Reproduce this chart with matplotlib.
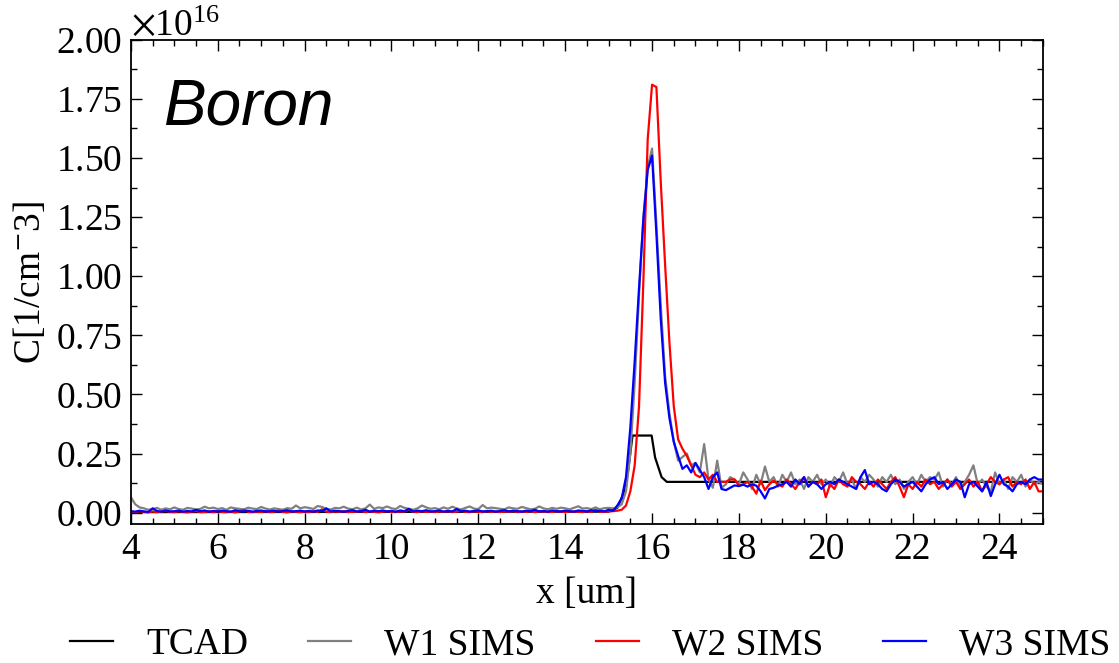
import numpy as np
import matplotlib
matplotlib.use("Agg")
import matplotlib.pyplot as plt
from matplotlib.ticker import AutoMinorLocator, MultipleLocator, ScalarFormatter

plt.rcParams["font.family"] = ["Liberation Serif", "DejaVu Serif"]
plt.rcParams["mathtext.fontset"] = "stix"

SCALE = 1e16  # concentrations below are given in units of 1e16 cm^-3

# TCAD simulation profile
x_tcad = [4.0, 15.0, 15.2, 15.34, 15.45, 15.55, 15.99, 16.07, 16.22, 16.34, 25.0]
c_tcad = [0.002, 0.004, 0.02, 0.08, 0.18, 0.326, 0.326, 0.233, 0.15, 0.13, 0.13]

# SIMS depth grid (um), 0.1 um steps from 4 to 25
x_sims = np.round(np.arange(4.0, 25.05, 0.1), 1)

c_w1 = [
    0.065, 0.035, 0.022, 0.018, 0.012, 0.015, 0.020, 0.012, 0.018, 0.014,
    0.022, 0.015, 0.012, 0.020, 0.017, 0.013, 0.016, 0.025, 0.018, 0.021,
    0.015, 0.019, 0.012, 0.022, 0.018, 0.016, 0.013, 0.021, 0.017, 0.015,
    0.024, 0.017, 0.013, 0.018, 0.015, 0.012, 0.019, 0.016, 0.030, 0.018,
    0.023, 0.020, 0.015, 0.028, 0.024, 0.016, 0.013, 0.020, 0.018, 0.025,
    0.017, 0.014, 0.021, 0.013, 0.018, 0.034, 0.016, 0.022, 0.019, 0.026,
    0.018, 0.015, 0.028, 0.020, 0.016, 0.012, 0.018, 0.030, 0.022, 0.016,
    0.019, 0.014, 0.022, 0.016, 0.025, 0.018, 0.013, 0.020, 0.026, 0.017,
    0.015, 0.032, 0.018, 0.021, 0.019, 0.016, 0.014, 0.022, 0.018, 0.016,
    0.024, 0.019, 0.014, 0.016, 0.026, 0.018, 0.014, 0.020, 0.016, 0.021,
    0.018, 0.014, 0.020, 0.027, 0.017, 0.019, 0.015, 0.022, 0.014, 0.019,
    0.020, 0.018, 0.022, 0.035, 0.090, 0.250, 0.550, 0.920, 1.250, 1.460,
    1.540, 1.220, 0.880, 0.580, 0.420, 0.300, 0.220, 0.235, 0.250, 0.200,
    0.210, 0.170, 0.290, 0.140, 0.105, 0.220, 0.105, 0.120, 0.150, 0.140,
    0.120, 0.170, 0.140, 0.100, 0.160, 0.120, 0.195, 0.130, 0.150, 0.110,
    0.160, 0.130, 0.170, 0.120, 0.140, 0.100, 0.150, 0.130, 0.160, 0.120,
    0.140, 0.110, 0.150, 0.130, 0.170, 0.120, 0.140, 0.100, 0.150, 0.130,
    0.160, 0.140, 0.110, 0.150, 0.130, 0.160, 0.120, 0.140, 0.100, 0.130,
    0.150, 0.120, 0.160, 0.130, 0.150, 0.140, 0.170, 0.110, 0.140, 0.120,
    0.150, 0.100, 0.130, 0.160, 0.200, 0.120, 0.140, 0.110, 0.090, 0.170,
    0.120, 0.140, 0.100, 0.150, 0.130, 0.160, 0.110, 0.140, 0.120, 0.130,
    0.120,
]

c_w2 = [
    0.004, 0.002, 0.006, 0.003, 0.001, 0.005, 0.002, 0.004, 0.008, 0.003,
    0.002, 0.006, 0.003, 0.001, 0.004, 0.007, 0.002, 0.003, 0.005, 0.002,
    0.006, 0.003, 0.002, 0.004, 0.001, 0.005, 0.012, 0.003, 0.002, 0.004,
    0.003, 0.006, 0.002, 0.004, 0.008, 0.003, 0.001, 0.005, 0.003, 0.002,
    0.004, 0.002, 0.006, 0.003, 0.014, 0.004, 0.002, 0.005, 0.003, 0.006,
    0.002, 0.004, 0.003, 0.007, 0.002, 0.005, 0.003, 0.001, 0.004, 0.006,
    0.003, 0.002, 0.005, 0.004, 0.013, 0.003, 0.002, 0.006, 0.003, 0.004,
    0.002, 0.005, 0.003, 0.006, 0.002, 0.004, 0.008, 0.003, 0.002, 0.005,
    0.004, 0.002, 0.006, 0.003, 0.004, 0.002, 0.005, 0.003, 0.007, 0.002,
    0.004, 0.003, 0.006, 0.002, 0.004, 0.005, 0.002, 0.003, 0.006, 0.004,
    0.002, 0.005, 0.003, 0.004, 0.002, 0.006, 0.003, 0.012, 0.004, 0.003,
    0.005, 0.006, 0.008, 0.012, 0.030, 0.090, 0.200, 0.450, 0.980, 1.580,
    1.810, 1.800, 1.400, 1.050, 0.720, 0.450, 0.310, 0.270, 0.240, 0.200,
    0.160, 0.150, 0.170, 0.140, 0.160, 0.130, 0.130, 0.130, 0.140, 0.140,
    0.115, 0.120, 0.130, 0.110, 0.080, 0.135, 0.095, 0.120, 0.135, 0.120,
    0.110, 0.140, 0.120, 0.100, 0.130, 0.150, 0.110, 0.130, 0.120, 0.140,
    0.065, 0.120, 0.100, 0.140, 0.120, 0.110, 0.150, 0.130, 0.120, 0.100,
    0.130, 0.110, 0.140, 0.120, 0.100, 0.130, 0.150, 0.110, 0.065, 0.120,
    0.100, 0.130, 0.110, 0.140, 0.120, 0.130, 0.100, 0.120, 0.140, 0.110,
    0.130, 0.100, 0.120, 0.140, 0.110, 0.130, 0.090, 0.120, 0.150, 0.130,
    0.120, 0.140, 0.150, 0.110, 0.130, 0.120, 0.140, 0.100, 0.130, 0.090,
    0.090,
]

c_w3 = [
    0.006, 0.004, 0.008, 0.005, 0.003, 0.018, 0.007, 0.004, 0.009, 0.005,
    0.006, 0.008, 0.004, 0.007, 0.005, 0.012, 0.006, 0.009, 0.004, 0.007,
    0.005, 0.008, 0.006, 0.004, 0.010, 0.006, 0.005, 0.008, 0.004, 0.007,
    0.009, 0.005, 0.006, 0.008, 0.004, 0.007, 0.010, 0.005, 0.006, 0.008,
    0.005, 0.007, 0.004, 0.009, 0.006, 0.018, 0.005, 0.008, 0.006, 0.004,
    0.007, 0.010, 0.005, 0.006, 0.012, 0.004, 0.008, 0.006, 0.009, 0.005,
    0.007, 0.004, 0.009, 0.006, 0.016, 0.005, 0.008, 0.006, 0.010, 0.005,
    0.006, 0.009, 0.004, 0.007, 0.005, 0.015, 0.006, 0.008, 0.004, 0.007,
    0.009, 0.005, 0.006, 0.008, 0.004, 0.007, 0.010, 0.005, 0.008, 0.006,
    0.004, 0.008, 0.006, 0.012, 0.005, 0.007, 0.004, 0.009, 0.006, 0.005,
    0.008, 0.006, 0.004, 0.009, 0.007, 0.005, 0.010, 0.006, 0.008, 0.005,
    0.012, 0.007, 0.030, 0.060, 0.150, 0.360, 0.640, 0.950, 1.240, 1.450,
    1.510, 1.180, 0.820, 0.550, 0.400, 0.300, 0.240, 0.185, 0.200, 0.170,
    0.210, 0.180, 0.150, 0.100, 0.150, 0.170, 0.100, 0.095, 0.105, 0.115,
    0.112, 0.118, 0.110, 0.120, 0.114, 0.090, 0.060, 0.100, 0.105, 0.114,
    0.120, 0.130, 0.110, 0.140, 0.120, 0.150, 0.110, 0.130, 0.120, 0.100,
    0.120, 0.130, 0.120, 0.140, 0.130, 0.120, 0.110, 0.100, 0.150, 0.180,
    0.120, 0.130, 0.120, 0.100, 0.090, 0.120, 0.140, 0.130, 0.110, 0.120,
    0.130, 0.110, 0.090, 0.120, 0.140, 0.150, 0.120, 0.130, 0.100, 0.120,
    0.140, 0.130, 0.065, 0.120, 0.130, 0.110, 0.090, 0.130, 0.070, 0.120,
    0.160, 0.120, 0.110, 0.090, 0.120, 0.130, 0.120, 0.140, 0.150, 0.140,
    0.140,
]

series = [
    ("TCAD", x_tcad, c_tcad, "black"),
    ("W1 SIMS", x_sims, c_w1, "gray"),
    ("W2 SIMS", x_sims, c_w2, "red"),
    ("W3 SIMS", x_sims, c_w3, "blue"),
]

FS = 27

fig = plt.figure(figsize=(11.19, 6.63), dpi=100)
ax = fig.add_axes([0.117, 0.209, 0.815, 0.731])

for label, xs, cs, color in series:
    ax.plot(xs, np.asarray(cs) * SCALE, color=color, lw=1.6, label=label)

ax.set_xlim(4, 25)
ax.set_ylim(-0.05 * SCALE, 2.0 * SCALE)
ax.xaxis.set_major_locator(MultipleLocator(2))
ax.xaxis.set_minor_locator(AutoMinorLocator(4))
ax.yaxis.set_major_locator(MultipleLocator(0.25 * SCALE))
ax.yaxis.set_minor_locator(AutoMinorLocator(2))

fmt = ScalarFormatter(useMathText=True)
fmt.set_powerlimits((0, 0))
ax.yaxis.set_major_formatter(fmt)
ax.yaxis.get_offset_text().set_fontsize(FS)

ax.tick_params(which="both", direction="in", top=True, right=True,
               labelsize=FS, width=1.0)
ax.tick_params(which="major", length=8, pad=6)
ax.tick_params(which="minor", length=4.5)
for sp in ax.spines.values():
    sp.set_linewidth(1.3)

ax.set_xlabel("x [um]", fontsize=FS, labelpad=7)
ax.set_ylabel(r"C[1/cm$^{-}$3]", fontsize=FS, labelpad=6)

ax.text(0.035, 0.86, "Boron", transform=ax.transAxes, fontsize=46,
        style="italic", family=["Liberation Sans", "DejaVu Sans"],
        ha="left", va="center")

fig.legend(loc="center", bbox_to_anchor=(0.5277, 0.027), ncol=4,
           frameon=False, fontsize=FS, handlelength=1.15,
           handletextpad=0.88, columnspacing=1.6)

fig.savefig("out.png", dpi=100)
